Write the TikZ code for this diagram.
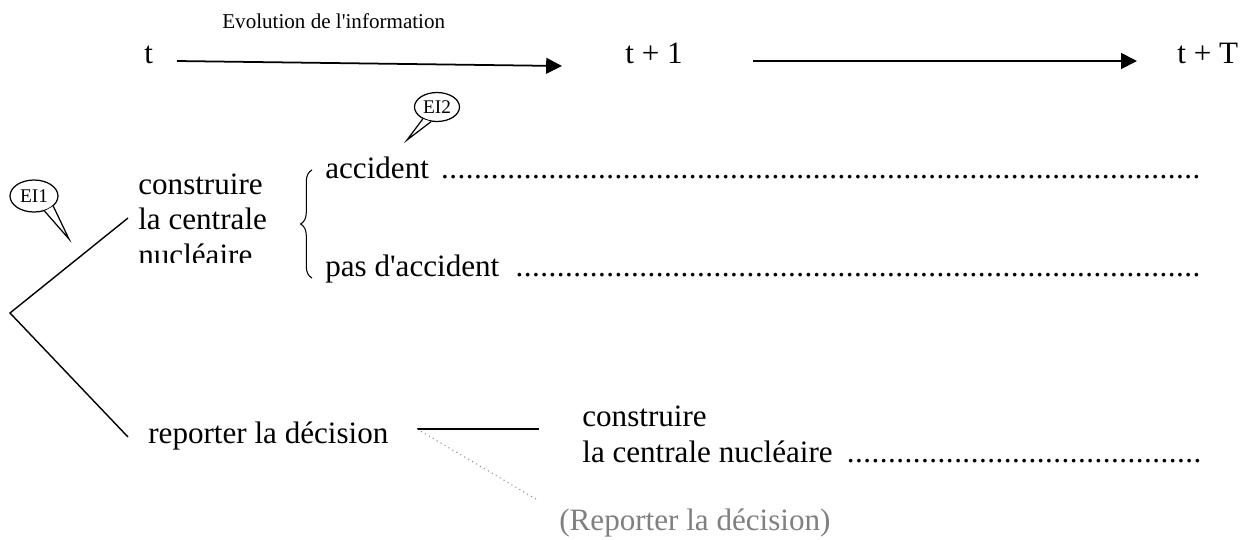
\documentclass[tikz,border=0pt]{standalone}
\usepackage{fontspec}
\setmainfont{Liberation Serif}
\usetikzlibrary{arrows.meta,decorations.pathreplacing,shapes.geometric}
\newcommand{\pointilles}{\leaders\hbox to 4.7pt{\hss.\hss}\hfill}

\begin{document}
\begin{tikzpicture}[x=0.02cm, y=-0.02cm,
% Node styles
 texte/.style={anchor=base west, inner sep=0pt, align=left, font=\fontsize{17.7}{20}\selectfont},
 petit/.style={anchor=base west, inner sep=0pt, font=\fontsize{12}{14}\selectfont},
 bulle/.style={draw, ellipse, minimum width=0.9cm, minimum height=0.58cm, inner sep=0pt, line width=0.7pt, font=\fontsize{11}{12}\selectfont},
 gris/.style={text=black!50},
% Edge styles
 fleche/.style={draw, line width=1pt, -{Triangle[length=9pt, width=9pt]}},
 branche/.style={draw, line width=0.8pt},
 pointille/.style={draw, black!45, dotted, line width=0.6pt},
 accolade/.style={draw, line width=0.6pt, decorate, decoration={brace, amplitude=6.5pt}}
]
\useasboundingbox (0,0) rectangle (1242,539);
% Time axis
\node[petit] (titre) at (222,28) {Evolution de l\textquotesingle information};
\node[texte] (t0) at (144,63) {t};
\node[texte] (t1) at (625,63) {t + 1};
\node[texte] (tT) at (1177,63) {t + T};
\coordinate (a1d) at (177,61);
\coordinate (a1f) at (562,66);
\coordinate (a2d) at (753,61);
\coordinate (a2f) at (1137,61);
\draw[fleche] (a1d) -- (a1f);
\draw[fleche] (a2d) -- (a2f);
% Bubbles
\node[bulle, minimum width=0.96cm, minimum height=0.64cm] (ei1) at (34,196) {EI1};
\coordinate (ei1p) at (69,239);
\fill[white] (ei1.-55) -- (ei1p) -- (ei1.-28) -- cycle;
\draw[line width=0.7pt] (ei1.-55) -- (ei1p) -- (ei1.-28);
\node[bulle] (ei2) at (437,107) {EI2};
\coordinate (ei2p) at (407,140);
\fill[white] (ei2.-140) -- (ei2p) -- (ei2.-112) -- cycle;
\draw[line width=0.7pt] (ei2.-140) -- (ei2p) -- (ei2.-112);
% First decision
\coordinate (racine) at (10,313);
\coordinate (b1) at (128,218);
\coordinate (b2) at (128,437);
\draw[branche] (b1) -- (racine) -- (b2);
\begin{scope}
 \clip (0,0) rectangle (300,262);
 \node[texte] (cons) at (138,265) {construire\\la centrale\\nucléaire};
\end{scope}
\coordinate (acc1) at (312,278);
\coordinate (acc2) at (312,170);
\draw[accolade] (acc1) -- (acc2);
\node[texte] (acc) at (325,178) {\makebox[17.62cm][l]{accident \pointilles}};
\node[texte] (pasacc) at (325,276) {\makebox[17.62cm][l]{pas d\textquotesingle accident \pointilles}};
% Postponed decision
\node[texte] (rep) at (148,443) {reporter la décision};
\coordinate (r1) at (417,429);
\coordinate (r2) at (539,429);
\coordinate (r3) at (536,499);
\draw[branche] (r1) -- (r2);
\draw[pointille] (r1) -- (r3);
\node[texte] (cons2) at (582,462) {construire\\\makebox[12.46cm][l]{la centrale nucléaire \pointilles}};
\node[texte, gris] (rep2) at (559,530) {(Reporter la décision)};
\end{tikzpicture}
\end{document}
